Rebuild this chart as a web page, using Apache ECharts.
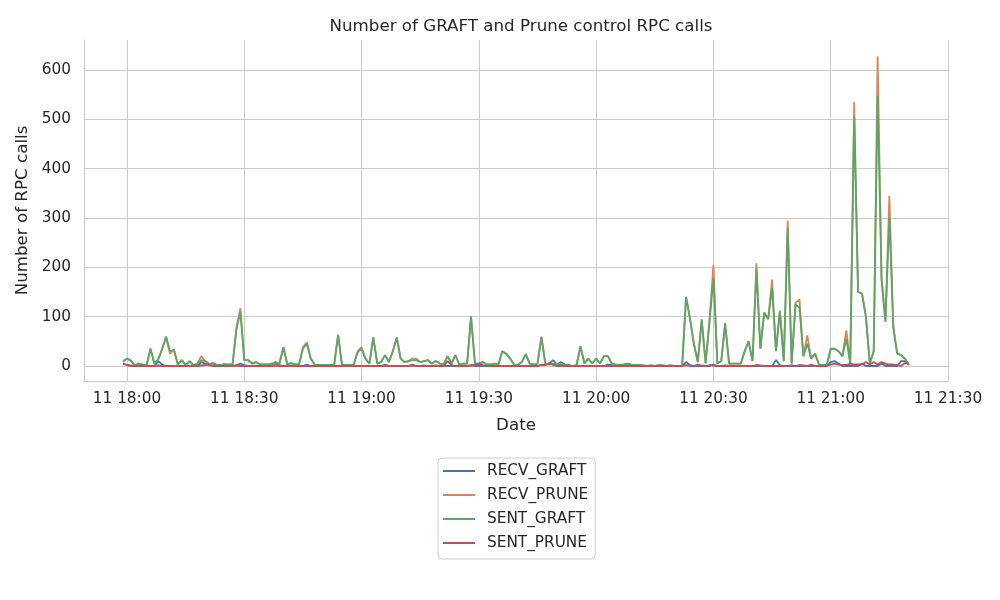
<!DOCTYPE html>
<html>
<head>
<meta charset="utf-8">
<script src="https://cdn.jsdelivr.net/npm/echarts@6/dist/echarts.min.js"></script>
<style>html,body{margin:0;padding:0;background:#fff}#c{width:1000px;height:600px}</style>
</head>
<body>
<div id="c"></div>
<script>
// Sampling: one point per minute starting at 11 17:59
var START = [2021, 4, 11, 17, 59];
var STEP_MIN = 1;
var X_TICKS = ['18:00','18:30','19:00','19:30','20:00','20:30','21:00','21:30'];
var Y_TICKS = [0, 100, 200, 300, 400, 500, 600];
var SERIES_NAMES = ['RECV_GRAFT', 'RECV_PRUNE', 'SENT_GRAFT', 'SENT_PRUNE'];

var RECV_GRAFT = [
  5,2,0,0,0,0,0,0,0,10,
  3,0,0,0,0,0,0,0,0,0,
  8,5,2,0,0,0,0,0,0,2,
  5,2,0,0,0,0,0,0,3,8,
  2,0,0,0,0,0,0,3,0,0,
  0,0,0,0,0,0,0,0,0,0,
  0,0,0,0,0,0,0,3,0,0,
  0,0,0,0,3,0,0,0,0,0,
  0,0,0,0,0,0,0,0,0,2,
  0,0,0,0,0,0,0,0,0,0,
  0,0,0,0,0,0,0,3,2,5,
  12,3,8,3,2,0,0,0,0,0,
  0,0,0,0,3,2,3,2,3,3,
  2,1,0,0,0,0,0,0,0,0,
  0,0,0,0,8,2,0,0,0,0,
  0,3,0,0,0,0,0,0,0,0,
  0,0,0,0,0,0,0,12,2,0,
  0,0,0,0,0,0,0,0,0,0,
  0,8,10,5,0,0,0,0,0,5,
  0,0,0,0,5,0,0,0,0,10,
  10,3];
var RECV_PRUNE = [8,15,11,1,5,3,1,35,5,14,35,58,25,33,3,12,2,10,2,5,20,10,4,6,2,2,4,3,3,78,117,12,12,5,8,3,3,3,5,5,5,38,3,6,3,3,38,48,15,3,2,2,2,2,3,63,2,2,2,3,30,38,15,5,58,5,8,22,8,30,58,15,8,10,15,15,8,10,12,5,10,5,3,20,5,22,3,5,5,100,5,5,8,3,3,5,3,30,25,15,3,2,8,24,5,3,5,60,5,3,5,3,3,2,0,0,2,40,5,15,5,15,5,20,20,5,3,2,2,5,3,2,2,1,0,1,0,2,1,0,1,0,0,0,140,98,45,8,95,5,92,205,5,10,88,5,5,5,5,30,50,10,208,35,108,95,175,30,112,10,295,5,128,135,20,62,15,25,3,2,2,35,35,30,20,72,5,535,150,147,100,5,30,628,178,90,345,80,25,22,15,2];
var SENT_GRAFT = [10,15,11,1,5,3,1,35,5,14,35,60,30,33,3,12,2,10,2,5,12,10,4,6,2,2,4,3,3,75,110,12,12,5,8,3,3,3,5,5,5,38,3,6,3,3,35,45,15,3,2,2,2,2,3,63,2,2,2,3,28,35,15,5,58,5,8,22,8,30,58,15,8,10,12,12,8,10,12,5,10,5,3,20,5,22,3,5,5,100,5,5,8,3,3,5,3,30,25,15,3,2,8,24,5,3,5,58,5,3,5,3,3,2,0,0,2,40,5,15,5,15,5,20,20,5,3,2,2,5,3,2,2,1,0,1,0,2,1,0,1,0,0,0,140,95,45,8,93,5,90,178,5,10,85,5,5,5,5,30,50,10,195,35,108,95,158,30,112,10,280,5,125,118,20,45,15,25,3,2,2,35,35,30,20,55,5,505,150,147,100,5,30,548,175,90,300,80,25,22,15,2];
var SENT_PRUNE = [
  5,2,1,0,0,1,0,0,0,1,
  0,0,0,0,0,0,0,0,1,0,
  1,2,3,1,0,0,0,0,0,1,
  0,0,0,0,0,0,0,0,0,1,
  0,0,0,0,0,0,0,0,0,0,
  0,0,0,0,0,0,0,0,0,0,
  0,0,0,0,0,0,0,1,0,0,
  0,0,0,0,1,0,0,1,0,0,
  1,0,0,10,2,0,0,0,0,1,
  2,5,2,0,0,0,0,0,0,0,
  0,0,0,0,0,0,0,2,2,6,
  2,0,0,0,0,0,0,0,0,0,
  0,0,0,0,0,0,0,0,0,0,
  0,0,0,0,0,0,0,0,0,0,
  0,0,0,0,2,0,0,3,1,0,
  2,1,0,0,1,0,0,0,0,0,
  0,0,2,1,0,0,0,0,0,0,
  0,2,0,2,1,0,3,0,0,0,
  0,3,5,3,2,2,5,3,3,3,
  8,3,8,3,8,5,3,3,2,0,
  6,5];

function ts(h, m) { return new Date(START[0], START[1], START[2], h, m).getTime(); }
var t0 = ts(START[3], START[4]);
function pairs(arr) { return arr.map(function (v, i) { return [t0 + i * STEP_MIN * 60000, v]; }); }
var xTickVals = X_TICKS.map(function (s) { var p = s.split(':'); return ts(+p[0], +p[1]); });

var COLORS = ['#4c72b0', '#dd8452', '#55a868', '#c44e52'];
var DATA = [RECV_GRAFT, RECV_PRUNE, SENT_GRAFT, SENT_PRUNE];
var FONT = 'DejaVu Sans';

function pad(n) { return (n < 10 ? '0' : '') + n; }

var chart = echarts.init(document.getElementById('c'), null, { renderer: 'canvas' });
chart.setOption({
  animation: false,
  backgroundColor: '#ffffff',
  textStyle: { fontFamily: FONT },
  title: {
    text: 'Number of GRAFT and Prune control RPC calls',
    left: 516, top: 13, textAlign: 'center',
    textStyle: { fontFamily: FONT, fontSize: 16.7, fontWeight: 'normal', color: '#262626' }
  },
  grid: { left: 84, right: 52, top: 40, bottom: 219, containLabel: false },
  xAxis: {
    type: 'value',
    min: ts(17, 49), max: ts(21, 30),
    name: 'Date', nameLocation: 'middle', nameGap: 36,
    nameTextStyle: { fontFamily: FONT, fontSize: 16.7, color: '#262626' },
    axisLine: { show: true, onZero: false, lineStyle: { color: '#cccccc', width: 1.25 } },
    axisTick: { show: false, customValues: xTickVals },
    axisLabel: {
      customValues: xTickVals, margin: 11, color: '#262626', fontFamily: FONT, fontSize: 15.3,
      formatter: function (v) { var d = new Date(v); return '11 ' + pad(d.getHours()) + ':' + pad(d.getMinutes()); }
    },
    splitLine: { show: true, lineStyle: { color: '#cccccc', width: 1 } }
  },
  yAxis: {
    type: 'value',
    min: -30.4, max: 660.8,
    name: 'Number of RPC calls', nameLocation: 'middle', nameGap: 42,
    nameTextStyle: { fontFamily: FONT, fontSize: 16.7, color: '#262626' },
    axisLine: { show: true, onZero: false, lineStyle: { color: '#cccccc', width: 1.25 } },
    axisTick: { show: false, customValues: Y_TICKS },
    axisLabel: { customValues: Y_TICKS, margin: 13, color: '#262626', fontFamily: FONT, fontSize: 15.3 },
    splitLine: { show: true, lineStyle: { color: '#cccccc', width: 1 } }
  },
  legend: {
    orient: 'vertical', left: 438, top: 458,
    data: SERIES_NAMES,
    icon: 'rect', itemWidth: 32, itemHeight: 2, itemGap: 8,
    padding: [5, 7, 8, 5],
    borderColor: '#cccccc', borderWidth: 1, borderRadius: 4,
    textStyle: { fontFamily: FONT, fontSize: 15.3, color: '#262626', lineHeight: 16, padding: [0, 0, 0, 7] }
  },
  series: SERIES_NAMES.map(function (n, k) {
    return {
      name: n, type: 'line', data: pairs(DATA[k]),
      showSymbol: false, symbol: 'none',
      lineStyle: { color: COLORS[k], width: 1.8 },
      itemStyle: { color: COLORS[k] },
      z: 2 + k
    };
  })
});
</script>
</body>
</html>
